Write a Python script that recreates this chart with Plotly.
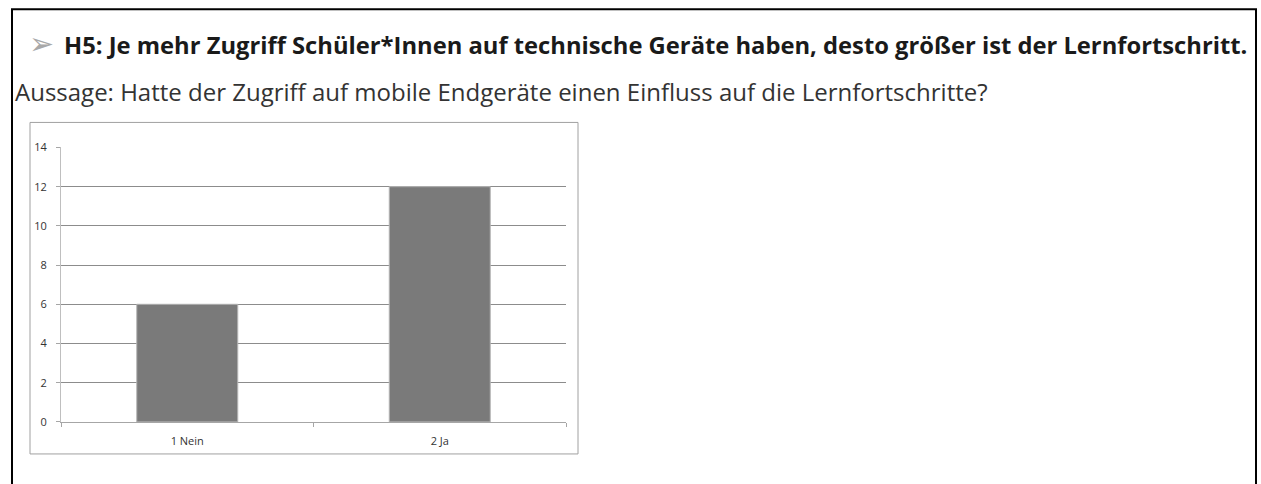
"""
Bar chart: access to mobile devices vs. learning progress (H5)
"""

import plotly.graph_objects as go

# data
categories = ['1 Nein', '2 Ja']
counts = [6, 12]
y_ticks = [0, 2, 4, 6, 8, 10, 12, 14]

title_text = 'H5: Je mehr Zugriff Schüler*Innen auf technische Geräte haben, desto größer ist der Lernfortschritt.'
question_text = 'Aussage: Hatte der Zugriff auf mobile Endgeräte einen Einfluss auf die Lernfortschritte?'

W, H = 1261, 492
TOP = 8          # page offset above the figure
SCALE = 484 / 500  # captured page height vs. picture height


def px_x(x):
    return x / W


def px_y(y):
    # y given in picture pixels from the top
    return 1 - (y / SCALE - TOP) / H


fig = go.Figure()

fig.add_trace(go.Bar(
    x=categories,
    y=counts,
    marker=dict(color='#7a7a7a', line=dict(color='#b5b5b5', width=1)),
    showlegend=False,
    hoverinfo='x+y'
))

tick_font = dict(family='Open Sans, sans-serif', size=11, color='#333333')

fig.update_layout(
    width=W,
    height=H,
    autosize=False,
    margin=dict(l=0, r=0, t=0, b=0),
    paper_bgcolor='white',
    plot_bgcolor='white',
    bargap=0.6,
    xaxis=dict(
        domain=[px_x(61), px_x(566)],
        type='category',
        showgrid=False,
        showline=True,
        linecolor='#a6a6a6',
        linewidth=1,
        ticks='outside',
        tickson='boundaries',
        ticklen=4,
        tickcolor='#a6a6a6',
        tickfont=tick_font,
        ticklabelstandoff=9,
        fixedrange=True
    ),
    yaxis=dict(
        domain=[px_y(421), px_y(147)],
        range=[0, 14],
        tickvals=y_ticks,
        showgrid=True,
        gridcolor='#8c8c8c',
        gridwidth=1,
        zeroline=False,
        showline=True,
        linecolor='#bfbfbf',
        linewidth=1,
        ticks='outside',
        ticklen=4,
        tickcolor='#a6a6a6',
        tickfont=tick_font,
        ticklabelstandoff=7,
        fixedrange=True
    )
)

# outer page frame (open at the bottom) and chart box
fig.add_shape(type='path', xref='paper', yref='paper',
              path=f'M {px_x(12)},0 L {px_x(12)},{px_y(9)} L {px_x(1256)},{px_y(9)} L {px_x(1256)},0',
              line=dict(color='black', width=2))
fig.add_shape(type='rect', xref='paper', yref='paper',
              x0=px_x(30), x1=px_x(578), y0=px_y(453), y1=px_y(122),
              line=dict(color='#a0a0a0', width=1), layer='below')

# heading with arrow bullet
fig.add_annotation(x=px_x(27), y=px_y(43), xref='paper', yref='paper',
                   text='➢', showarrow=False, xanchor='left', yanchor='middle',
                   font=dict(family='DejaVu Sans', size=30, color='#a8a8a8'))
fig.add_annotation(x=px_x(62), y=px_y(45), xref='paper', yref='paper',
                   text='<b>' + title_text + '</b>', showarrow=False,
                   xanchor='left', yanchor='middle',
                   font=dict(family='Open Sans, sans-serif', size=23.75, color='#1a1a1a'))
fig.add_annotation(x=px_x(13), y=px_y(91.5), xref='paper', yref='paper',
                   text=question_text, showarrow=False,
                   xanchor='left', yanchor='middle',
                   font=dict(family='Open Sans, sans-serif', size=24, color='#333333'))

fig.write_html('out.html', config={'displayModeBar': False},
               post_script="document.body.style.margin='0 0';")
